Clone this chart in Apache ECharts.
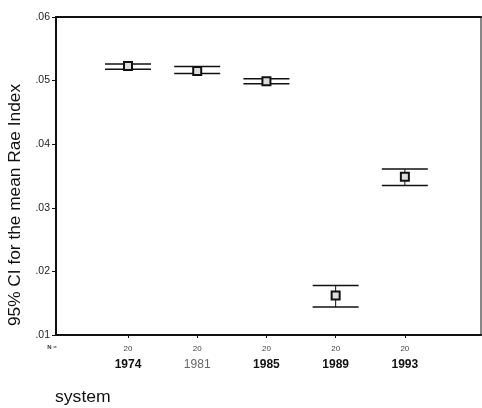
<!DOCTYPE html>
<html>
<head>
<meta charset="utf-8">
<script src="https://cdn.jsdelivr.net/npm/echarts@6/dist/echarts.min.js"></script>
<style>
  html, body { margin: 0; padding: 0; background: #fff; }
  #chart { width: 482px; height: 408px; }
</style>
</head>
<body>
<div id="chart"></div>
<script>
// data
var years = ['1974', '1981', '1985', '1989', '1993'];
var counts = [20, 20, 20, 20, 20];
var means = [0.0523, 0.0515, 0.0499, 0.0162, 0.0349];
var lower = [0.0518, 0.0511, 0.0495, 0.0144, 0.0335];
var upper = [0.0526, 0.0522, 0.0503, 0.0178, 0.0361];
var yTicks = [0.01, 0.02, 0.03, 0.04, 0.05, 0.06];

var barData = years.map(function (y, i) {
  return [i + 1, means[i], lower[i], upper[i]];
});
var xPos = years.map(function (y, i) { return i + 1; });

var chart = echarts.init(document.getElementById('chart'));

function renderBar(params, api) {
  var x = api.value(0);
  var pMean = api.coord([x, api.value(1)]);
  var pLow = api.coord([x, api.value(2)]);
  var pHigh = api.coord([x, api.value(3)]);
  var half = 23;
  var line = { stroke: '#111', lineWidth: 1.5 };
  return {
    type: 'group',
    children: [
      { type: 'line', shape: { x1: pLow[0] - half, y1: pLow[1], x2: pLow[0] + half, y2: pLow[1] }, style: line },
      { type: 'line', shape: { x1: pHigh[0] - half, y1: pHigh[1], x2: pHigh[0] + half, y2: pHigh[1] }, style: line },
      { type: 'line', shape: { x1: pLow[0], y1: pLow[1], x2: pHigh[0], y2: pHigh[1] }, style: { stroke: '#111', lineWidth: 1 } },
      { type: 'rect', shape: { x: pMean[0] - 4, y: pMean[1] - 4, width: 8, height: 8 }, style: { fill: '#ddd', stroke: '#111', lineWidth: 2 } }
    ]
  };
}

var option = {
  backgroundColor: '#fff',
  animation: false,
  grid: {
    left: 56,
    right: 1,
    top: 17,
    bottom: 73,
    show: true,
    borderColor: '#111',
    borderWidth: 1
  },
  xAxis: [{
    type: 'value',
    min: -0.04,
    max: 6.1,
    axisLine: { show: true, onZero: false, lineStyle: { color: '#111', width: 2 } },
    axisTick: { show: true, length: 3, customValues: xPos, lineStyle: { color: '#111' } },
    splitLine: { show: false },
    axisLabel: {
      margin: 6,
      customValues: xPos,
      formatter: function (v) {
        var i = Math.round(v) - 1;
        if (i < 0 || i >= years.length) return '';
        var style = years[i] === '1981' ? 'g' : 'y';
        return '{n|' + counts[i] + '}\n{' + style + '|' + years[i] + '}';
      },
      rich: {
        n: { fontSize: 8, color: '#444', lineHeight: 15, fontFamily: 'Liberation Sans' },
        y: { fontSize: 12, color: '#111', fontWeight: 'bold', lineHeight: 17, fontFamily: 'Liberation Sans' },
        g: { fontSize: 12, color: '#666', lineHeight: 17, fontFamily: 'Liberation Sans' }
      }
    }
  }, {
    type: 'value',
    position: 'top',
    min: -0.04,
    max: 6.1,
    axisLine: { show: true, onZero: false, lineStyle: { color: '#111', width: 2 } },
    axisTick: { show: false },
    axisLabel: { show: false },
    splitLine: { show: false }
  }],
  yAxis: {
    type: 'value',
    position: 'left',
    min: yTicks[0],
    max: yTicks[yTicks.length - 1],
    interval: 0.01,
    axisLine: { show: true, onZero: false, lineStyle: { color: '#111', width: 2 } },
    axisTick: { show: true, length: 4, lineStyle: { color: '#111' } },
    splitLine: { show: false },
    axisLabel: {
      margin: 6,
      color: '#222',
      fontSize: 10.5,
      fontFamily: 'Liberation Sans',
      formatter: function (v) { return v.toFixed(2).replace('0.', '.'); }
    }
  },
  graphic: [{
    type: 'text',
    x: 16,
    y: 205,
    rotation: Math.PI / 2,
    scaleX: 1.08,
    style: {
      text: '95% CI for the mean Rae Index',
      font: '16px "Liberation Sans"',
      fill: '#111',
      textAlign: 'center',
      textVerticalAlign: 'middle'
    }
  }, {
    type: 'text',
    x: 52,
    y: 347,
    style: {
      text: 'N =',
      font: 'bold 6px "Liberation Sans"',
      fill: '#333',
      textAlign: 'center',
      textVerticalAlign: 'middle'
    }
  }, {
    type: 'text',
    x: 55,
    y: 398,
    scaleX: 1.1,
    style: {
      text: 'system',
      font: '16px "Liberation Sans"',
      fill: '#111',
      textAlign: 'left',
      textVerticalAlign: 'middle'
    }
  }],
  series: [{
    type: 'custom',
    renderItem: renderBar,
    encode: { x: 0, y: [1, 2, 3] },
    data: barData
  }]
};

chart.setOption(option);
</script>
</body>
</html>
